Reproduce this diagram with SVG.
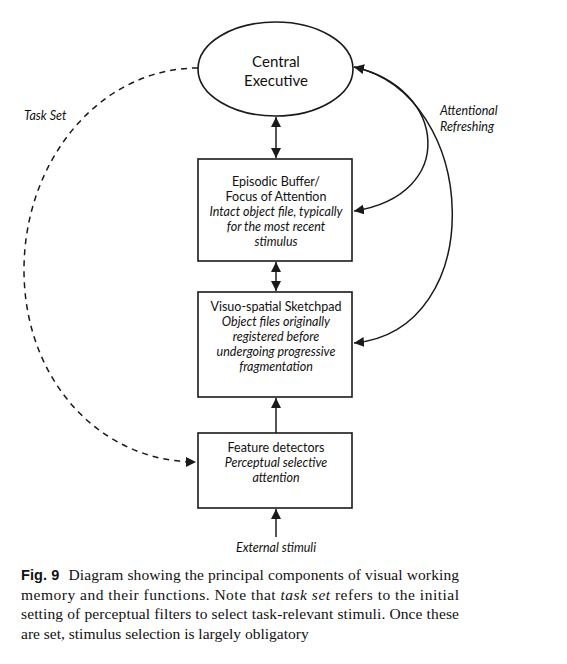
<svg xmlns="http://www.w3.org/2000/svg" width="567" height="664" viewBox="0 0 567 664">
<style>
.shape{fill:#fff;stroke:#1a1a1a;stroke-width:1.6}
.ln{fill:none;stroke:#1a1a1a;stroke-width:1.5}
.dash{fill:none;stroke:#1a1a1a;stroke-width:1.5;stroke-dasharray:6,5}
.t{font-family:Lato,"Liberation Sans",sans-serif;font-size:12.5px;fill:#111;text-anchor:middle}
.i{font-style:italic}
.big{font-size:15px}
.lab{font-family:Lato,"Liberation Sans",sans-serif;font-size:12.5px;font-style:italic;fill:#111}
.cap{font-family:"Liberation Serif","Times New Roman",serif;font-size:15.5px;fill:#111}
.fig{font-family:"Liberation Sans",Arial,sans-serif;font-weight:bold;font-size:14.5px}
</style>
<defs>
<marker id="ah" viewBox="0 0 10 10" refX="10" refY="5" markerWidth="10" markerHeight="10" markerUnits="userSpaceOnUse" orient="auto-start-reverse">
<path d="M0,0 L10,5 L0,10 z" fill="#1a1a1a"/>
</marker>
</defs>
<g id="connectors">
<line class="ln" x1="276" y1="117" x2="276" y2="158" marker-start="url(#ah)" marker-end="url(#ah)"/>
<line class="ln" x1="276" y1="262" x2="276" y2="291" marker-start="url(#ah)" marker-end="url(#ah)"/>
<line class="ln" x1="276" y1="433" x2="276" y2="398" marker-end="url(#ah)"/>
<line class="ln" x1="276" y1="537" x2="276" y2="509" marker-end="url(#ah)"/>
<path class="dash" d="M198,68 C100,68 24,160 24,270 C24,380 100,462 196,462" marker-end="url(#ah)"/>
<path class="ln" d="M354,211 C458,195 447,88 354,67" marker-start="url(#ah)" marker-end="url(#ah)"/>
<path class="ln" d="M354,343 C490,330 480,95 354,67" marker-start="url(#ah)"/>
<text class="lab" x="440" y="115">Attentional</text>
<text class="lab" x="440" y="131">Refreshing</text>
<text class="lab" x="24" y="120">Task Set</text>
<text class="lab" x="276" y="552" text-anchor="middle">External stimuli</text>
</g>
<g id="central-executive">
<ellipse class="shape" cx="275.5" cy="69" rx="77.5" ry="47"/>
<text class="t big" x="276" y="67">Central</text>
<text class="t big" x="276" y="86">Executive</text>
</g>
<g id="episodic-buffer">
<rect class="shape" x="198" y="159" width="154" height="102"/>
<text class="t" x="276" y="186">Episodic Buffer/</text>
<text class="t" x="276" y="201">Focus of Attention</text>
<text class="t i" x="276" y="216">Intact object file, typically</text>
<text class="t i" x="276" y="231">for the most recent</text>
<text class="t i" x="276" y="246">stimulus</text>
</g>
<g id="sketchpad">
<rect class="shape" x="198" y="292" width="154" height="105"/>
<text class="t" x="276" y="311">Visuo-spatial Sketchpad</text>
<text class="t i" x="276" y="326">Object files originally</text>
<text class="t i" x="276" y="341">registered before</text>
<text class="t i" x="276" y="356">undergoing progressive</text>
<text class="t i" x="276" y="371">fragmentation</text>
</g>
<g id="feature-detectors">
<rect class="shape" x="198" y="433" width="154" height="75"/>
<text class="t" x="276" y="452">Feature detectors</text>
<text class="t i" x="276" y="467">Perceptual selective</text>
<text class="t i" x="276" y="482">attention</text>
</g>
<g id="caption">
<text class="cap" x="21" y="580" textLength="438" lengthAdjust="spacing"><tspan class="fig">Fig. 9</tspan><tspan dx="5"> Diagram showing the principal components of visual working</tspan></text>
<text class="cap" x="21" y="599.5" textLength="438" lengthAdjust="spacing">memory and their functions. Note that <tspan font-style="italic">task set</tspan> refers to the initial</text>
<text class="cap" x="21" y="619" textLength="438" lengthAdjust="spacing">setting of perceptual filters to select task-relevant stimuli. Once these</text>
<text class="cap" x="21" y="638.5">are set, stimulus selection is largely obligatory</text>
</g>
</svg>
